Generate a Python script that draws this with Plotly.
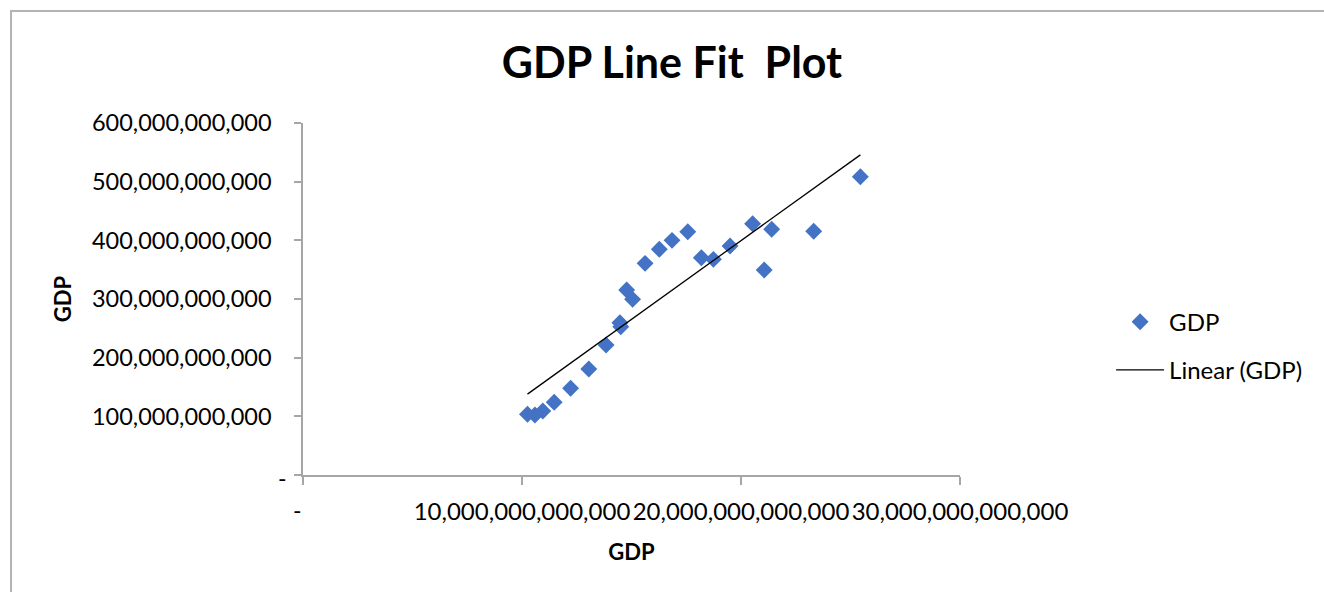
import numpy as np
import plotly.graph_objects as go

# Annual GDP pairs (x: larger economy, y: smaller economy), current US$
x_gdp = [10.25e12, 10.59e12, 10.95e12, 11.47e12, 12.22e12, 13.05e12, 13.84e12,
         14.47e12, 14.78e12, 14.51e12, 15.05e12, 15.62e12, 16.27e12, 16.85e12,
         17.57e12, 18.19e12, 18.74e12, 19.50e12, 20.53e12, 21.40e12, 21.06e12,
         23.32e12, 25.45e12]
y_gdp = [103.5e9, 102.3e9, 109.0e9, 123.9e9, 147.8e9, 180.7e9, 221.6e9,
         259.6e9, 315.3e9, 252.8e9, 299.4e9, 360.8e9, 384.7e9, 400.0e9,
         414.7e9, 370.4e9, 367.6e9, 390.3e9, 428.3e9, 418.8e9, 349.4e9,
         415.4e9, 508.5e9]

y_tickvals = [0, 100e9, 200e9, 300e9, 400e9, 500e9, 600e9]
y_ticktext = ["", "100,000,000,000", "200,000,000,000", "300,000,000,000",
              "400,000,000,000", "500,000,000,000", "600,000,000,000"]
x_tickvals = [0, 10e12, 20e12, 30e12]
x_ticktext = ["", "10,000,000,000,000", "20,000,000,000,000", "30,000,000,000,000"]
zero_label = "-"

FONT = "Lato"
AXIS_GREY = "#a6a6a6"

# least-squares trend line over the observed x range
slope, intercept = np.polyfit(np.array(x_gdp), np.array(y_gdp), 1)
trend_x = np.array([min(x_gdp), max(x_gdp)])
trend_y = slope * trend_x + intercept

fig = go.Figure()
fig.add_trace(go.Scatter(
    x=x_gdp, y=y_gdp, mode="markers", name="GDP",
    marker=dict(symbol="diamond", size=13, color="#4472C4"),
    legendgroup="a",
))
fig.add_trace(go.Scatter(
    x=trend_x, y=trend_y, mode="lines", name="Linear (GDP)",
    line=dict(color="black", width=1.3),
    legendgroup="b",
))

# chart-area border (left and top edges)
fig.add_shape(type="path", xref="paper", yref="paper",
              path="M -0.4444 -0.4 L -0.4444 1.3182 L 1.7 1.3182",
              line=dict(color="#b3b3b3", width=2))

# accounting-style zero labels sit slightly off the tick positions
fig.add_annotation(text=zero_label, xref="paper", yref="y", x=-0.0305, y=0,
                   showarrow=False, xanchor="center", yanchor="middle",
                   yshift=-3, font=dict(family=FONT, size=23))
fig.add_annotation(text=zero_label, xref="x", yref="paper", x=0, y=-0.1,
                   showarrow=False, xanchor="center", yanchor="middle",
                   xshift=-6, font=dict(family=FONT, size=23))

fig.update_layout(
    width=1324, height=592,
    margin=dict(l=303, r=364, t=123, b=117),
    paper_bgcolor="white", plot_bgcolor="white",
    font=dict(family=FONT, size=22, color="black"),
    title=dict(text="<b>GDP Line Fit  Plot</b>", x=0.5075, xref="container",
               xanchor="center", y=1 - 63 / 592, yref="container", yanchor="middle",
               font=dict(family=FONT, size=43, color="black")),
    xaxis=dict(range=[0, 30e12], tickvals=x_tickvals, ticktext=x_ticktext,
               showgrid=False, zeroline=False, showline=True, linecolor=AXIS_GREY,
               linewidth=1.5, ticks="outside", ticklen=8, tickcolor=AXIS_GREY,
               tickwidth=1.5, tickfont=dict(size=24), ticklabelstandoff=6,
               title=dict(text="<b>GDP</b>", font=dict(size=22), standoff=21)),
    yaxis=dict(range=[0, 600e9], tickvals=y_tickvals, ticktext=y_ticktext,
               showgrid=False, zeroline=False, showline=True, linecolor=AXIS_GREY,
               linewidth=1.5, ticks="outside", ticklen=7, tickcolor=AXIS_GREY,
               tickwidth=1.5, tickfont=dict(size=23.5), ticklabelstandoff=18,
               title=dict(text="<b>GDP</b>", font=dict(size=22), standoff=14)),
    legend=dict(x=1.230, y=0.366, xanchor="left", yanchor="middle",
                font=dict(family=FONT, size=24), itemwidth=48,
                tracegroupgap=14, traceorder="grouped", bgcolor="rgba(0,0,0,0)"),
    showlegend=True,
)

fig.write_html("out.html")
